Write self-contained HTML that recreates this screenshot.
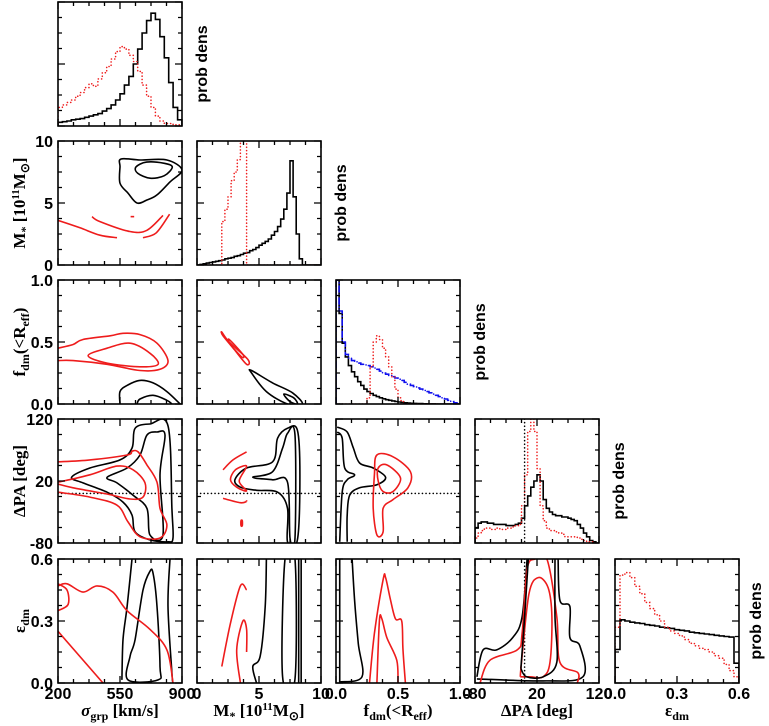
<!DOCTYPE html>
<html><head><meta charset="utf-8"><style>
html,body{margin:0;padding:0;background:#fff;}
svg{display:block;}
text{font-family:"Liberation Sans",sans-serif;font-weight:bold;fill:#000;}
.ttl{font-family:"Liberation Serif",serif;font-weight:bold;}
</style></head><body>
<svg id="fig" width="769" height="726" viewBox="0 0 769 726" xmlns="http://www.w3.org/2000/svg">
<g id="panels"></g>
</svg>
<script>
// ---- data ----
const varNames = ["sigma_grp","Mstar","f_dm","dPA","eps_dm"];
const varMin = [200,0,0,-80,0];
const varMax = [900,10,1,120,0.6];
const xTickLabels = [["200","550","900"],["0","5","10"],["0.0","0.5","1.0"],["-80","20","120"],["0.0","0.3","0.6"]];
const yTickLabels = [null,["0","5","10"],["0.0","0.5","1.0"],["-80","20","120"],["0.0","0.3","0.6"]];
// histograms (bin start, bin width, heights as fraction of panel)
const sigBinStart = 200, sigBinWidth = 25;
const sigHistBlack = [0.03,0.035,0.04,0.05,0.055,0.06,0.07,0.08,0.09,0.10,0.12,0.14,0.17,0.21,0.26,0.33,0.40,0.50,0.62,0.75,0.85,0.91,0.86,0.72,0.55,0.35,0.15,0.05];
const sigHistRed = [0.15,0.17,0.19,0.21,0.24,0.27,0.31,0.34,0.32,0.38,0.43,0.48,0.54,0.60,0.64,0.62,0.57,0.52,0.44,0.33,0.24,0.15,0.08,0.04,0.02,0.02,0.01,0.01];
const mBinStart = 0, mBinWidth = 0.25;
const mHistBlack = [0,0.005,0.01,0.015,0.02,0.025,0.03,0.035,0.04,0.05,0.055,0.06,0.07,0.075,0.085,0.095,0.10,0.115,0.125,0.14,0.16,0.175,0.19,0.21,0.24,0.27,0.31,0.37,0.45,0.58,0.84,0.55,0.25,0.05,0,0,0,0,0,0];
const mHistRed = [0,0,0,0,0,0,0,0,0.35,0.45,0.55,0.68,0.75,0.85,1.05,1.1,0,0,0,0,0,0,0,0,0,0,0,0,0,0,0,0,0,0,0,0,0,0,0,0];
const fBinStart = 0, fBinWidth = 0.025;
const fHistBlack = [1.0,0.73,0.49,0.38,0.31,0.26,0.22,0.18,0.15,0.12,0.10,0.085,0.07,0.06,0.05,0.042,0.035,0.03,0.025,0.02,0.016,0.013,0.01,0.008,0.006,0.005,0.004,0.003,0.002,0.002,0.001,0.001,0,0,0,0,0,0,0,0];
const fHistBlue = [1.0,0.75,0.5,0.4,0.37,0.35,0.34,0.33,0.32,0.315,0.31,0.30,0.29,0.28,0.265,0.25,0.24,0.23,0.22,0.21,0.2,0.19,0.175,0.16,0.15,0.14,0.13,0.12,0.11,0.1,0.09,0.08,0.07,0.06,0.05,0.04,0.03,0.02,0.01,0.005];
const fHistRed = [0,0,0,0,0,0,0,0,0,0,0.05,0.3,0.5,0.55,0.52,0.45,0.38,0.3,0.22,0.12,0.05,0.02,0,0,0,0,0,0,0,0,0,0,0,0,0,0,0,0,0,0];
const paBinStart = -80, paBinWidth = 5;
const paHistBlack = [0.12,0.16,0.17,0.17,0.16,0.16,0.15,0.15,0.15,0.15,0.14,0.14,0.14,0.15,0.16,0.2,0.3,0.38,0.45,0.5,0.55,0.5,0.35,0.28,0.25,0.23,0.22,0.22,0.21,0.21,0.2,0.19,0.18,0.15,0.12,0.08,0.05,0.02,0.01,0];
const paHistRed = [0.04,0.08,0.1,0.12,0.12,0.11,0.11,0.12,0.11,0.11,0.12,0.12,0.13,0.14,0.15,0.3,0.55,0.9,1.0,0.9,0.6,0.3,0.18,0.12,0.1,0.1,0.09,0.08,0.07,0.05,0.05,0.05,0.05,0.04,0.03,0.02,0.01,0.01,0,0];
const eBinStart = 0, eBinWidth = 0.024;
const eHistBlack = [0.27,0.51,0.50,0.49,0.485,0.48,0.47,0.465,0.46,0.45,0.445,0.44,0.43,0.425,0.42,0.41,0.405,0.40,0.395,0.39,0.385,0.38,0.375,0.37,0.16];
const eHistRed = [0.45,0.87,0.89,0.85,0.78,0.72,0.65,0.6,0.55,0.5,0.45,0.42,0.4,0.38,0.35,0.32,0.3,0.28,0.27,0.25,0.22,0.2,0.15,0.1,0.05];
// contours: row variable r, column variable c, data-space points [x,y]
const contourRow = [1,1,1,1,1,1, 2,2,2,2, 2,2,2,2, 3,3,3,3, 3,3,3,3,3,3,3, 3,3,3,3, 4,4,4,4,4,4, 4,4,4,4,4,4, 4,4,4,4, 4,4,4,4,4,4];
const contourCol = [0,0,0,0,0,0, 0,0,0,0, 1,1,1,1, 0,0,0,0, 1,1,1,1,1,1,1, 2,2,2,2, 0,0,0,0,0,0, 1,1,1,1,1,1, 2,2,2,2, 3,3,3,3,3,3];
const contourColor = ["k","k","r","r","r","r", "r","r","k","k", "r","r","k","k", "k","k","r","r", "k","k","r","r","r","r","r", "k","k","r","r", "k","k","k","r","r","r", "k","k","k","k","r","r", "k","k","r","r", "k","k","r","r","k","k"];
const contourClosed = [1,1,0,0,0,0, 0,1,0,0, 1,1,1,1, 1,1,0,0, 1,1,0,0,1,1,0, 0,0,1,1, 0,0,1,0,0,0, 0,1,0,0,0,0, 0,0,0,0, 0,0,0,0,0,0];
const contourPts = [
 [[556,8.55],[663,8.47],[815,8.47],[900,7.66],[832,6.7],[759,5.65],[702,5.24],[646,5.0],[595,5.8],[550,6.6],[550,7.9]],
 [[640,7.9],[700,8.3],[800,8.2],[845,7.9],[800,7.2],[720,7.0],[650,7.4]],
 [[200,3.6],[324,3.0],[437,2.4],[533,2.2]],
 [[680,2.2],[755,2.6],[830,4.1]],
 [[392,3.9],[437,3.5],[606,2.7],[702,2.8],[793,4.0]],
 [[610,3.9],[630,3.9]],
 [[200,0.45],[285,0.48],[341,0.52],[494,0.55],[567,0.57],[663,0.56],[759,0.49],[821,0.35],[776,0.28],[663,0.27],[477,0.32],[285,0.35],[200,0.35]],
 [[370,0.39],[477,0.45],[607,0.49],[719,0.41],[765,0.32],[663,0.30],[477,0.33]],
 [[550,0],[550,0.1],[590,0.15],[663,0.19],[737,0.17],[815,0.1],[889,0]],
 [[646,0],[663,0.04],[737,0.07],[815,0.03],[843,0]],
 [[2.0,0.58],[2.6,0.5],[4.1,0.36],[4.0,0.32],[3.0,0.44],[2.1,0.55]],
 [[2.6,0.52],[3.7,0.4],[3.6,0.38],[2.7,0.48]],
 [[4.4,0.27],[6.1,0.17],[7.7,0.09],[8.5,0],[7.3,0],[5.6,0.1],[4.4,0.25]],
 [[7.0,0.08],[7.8,0.05],[8.1,0.0],[7.5,0.02]],
 [[277,26],[380,41],[550,54],[618,73],[635,105],[719,112],[821,109],[843,-24],[849,-72],[821,-78],[719,-75],[635,-62],[618,-35],[567,-14],[477,2],[341,17]],
 [[477,26],[590,41],[663,62],[702,94],[759,99],[804,94],[776,30],[793,-67],[719,-67],[702,-24],[624,-3],[533,17]],
 [[200,51],[380,54],[590,62],[618,68],[652,67],[702,46],[759,18],[776,-24],[815,-51],[776,-72],[663,-70],[595,-46],[533,-19],[380,-6],[200,2]],
 [[200,18],[380,30],[533,44],[624,38],[691,17],[680,-6],[607,-9],[477,-1],[285,9],[200,15]],
 [[3.06,22],[4.0,41],[6.1,51],[6.5,89],[7.3,105],[8.1,102],[8.3,30],[8.1,-75],[7.3,-78],[7.3,-24],[6.5,2],[4.8,5],[3.5,10]],
 [[4.5,26],[6.1,35],[6.9,73],[7.3,97],[7.9,94],[7.9,-72],[7.5,-72],[7.3,18],[6.1,22]],
 [[2.1,38],[2.9,54],[4.0,67]],
 [[2.1,-8],[3.5,-15],[4.0,-13]],
 [[4.0,44],[3.1,38],[2.7,22],[3.2,10],[4.0,4],[3.4,20]],
 [[3.55,-44],[3.65,-44],[3.65,-52],[3.55,-52]],
 [[4.0,-13],[4.0,-11]],
 [[0.01,107],[0.09,99],[0.14,73],[0.19,49],[0.30,41],[0.40,26],[0.33,14],[0.19,9],[0.11,-3],[0.09,-35],[0.09,-78]],
 [[0.01,99],[0.05,89],[0.07,41],[0.15,30],[0.09,22],[0.05,2],[0.03,-78]],
 [[0.33,62],[0.46,59],[0.60,35],[0.58,9],[0.46,-10],[0.38,-24],[0.38,-62],[0.33,-67],[0.30,-24],[0.31,30]],
 [[0.34,41],[0.41,46],[0.52,25],[0.46,3],[0.38,3],[0.34,20]],
 [[561,0.015],[567,0.21],[590,0.37],[618,0.6]],
 [[832,0.6],[821,0.37],[843,0.05],[849,0.0]],
 [[595,0.015],[607,0.13],[635,0.21],[680,0.45],[719,0.54],[737,0.53],[759,0.37],[776,0.08],[765,0.015]],
 [[200,0.47],[251,0.48],[341,0.44],[420,0.47],[510,0.44],[590,0.35],[719,0.26],[815,0.16],[849,0.0]],
 [[200,0.35],[257,0.38],[251,0.45],[200,0.48]],
 [[200,0.25],[454,0.0]],
 [[5.6,0.6],[5.5,0.37],[5.1,0.13],[4.5,0.08],[4.8,0.0]],
 [[7.1,0.6],[6.9,0.03],[7.9,0.02],[7.9,0.6]],
 [[8.2,0],[8.2,0.6]],
 [[8.4,0],[8.4,0.6]],
 [[2.0,0.08],[2.7,0.29],[3.5,0.47],[4.0,0.45]],
 [[3.5,0.0],[3.2,0.16],[3.7,0.3],[4.0,0.26],[4.0,0.15]],
 [[0.03,0.6],[0.03,0.0]],
 [[0.13,0.6],[0.15,0.4],[0.18,0.19],[0.21,0.03],[0.03,0.005]],
 [[0.27,0.0],[0.31,0.24],[0.38,0.5],[0.40,0.51],[0.44,0.4],[0.48,0.31],[0.53,0.30],[0.54,0.16],[0.56,0.0]],
 [[0.33,0.0],[0.35,0.3],[0.37,0.31],[0.41,0.22],[0.49,0.11],[0.50,0.0]],
 [[-77,0.03],[-67,0.16],[-45,0.16],[-19,0.22],[-4,0.32],[4,0.6]],
 [[54,0.6],[57,0.4],[73,0.37],[73,0.22],[89,0.18],[94,0.03],[30,0.01],[-77,0.02]],
 [[-72,0.0],[-56,0.11],[-12,0.16],[-4,0.24],[4,0.55],[17,0.6],[36,0.6],[52,0.32],[57,0.1],[86,0.05],[85,0.0]],
 [[-7,0.03],[-5,0.1],[7,0.43],[22,0.51],[38,0.46],[44,0.32],[41,0.1],[30,0.03],[9,0.03],[-7,0.03]],
 [[-6,0.07],[0,0.32],[6,0.6]],
 [[49,0.6],[49,0.32],[52,0.1],[30,0.03],[3,0.03],[-6,0.07]]
];
const refPA = 0; // dotted reference line in dPA
// ---- layout ----
const COLX=[58,197,336,475,615], ROWY=[2,141,280,419,559], S=124;
const RED="#ee1c1c", BLUE="#1010ee";
const NS="http://www.w3.org/2000/svg";
const root=document.getElementById('panels');
function sx(c,v){return COLX[c]+(v-varMin[c])/(varMax[c]-varMin[c])*S;}
function sy(r,v){return ROWY[r]+S-(v-varMin[r])/(varMax[r]-varMin[r])*S;}
function hy(r,h){return ROWY[r]+S-h*S;}
function mk(tag,attrs,parent){const e=document.createElementNS(NS,tag);for(const k in attrs)e.setAttribute(k,attrs[k]);(parent||root).appendChild(e);return e;}
function smooth(p,closed){
  const n=p.length; if(n<3){return "M"+p.map(q=>q.join(",")).join("L")+(closed?"Z":"");}
  let d="M"+p[0][0].toFixed(1)+","+p[0][1].toFixed(1);
  const get=i=>closed?p[(i+n)%n]:p[Math.max(0,Math.min(n-1,i))];
  const last=closed?n:n-1;
  for(let i=0;i<last;i++){
    const p0=get(i-1),p1=get(i),p2=get(i+1),p3=get(i+2);
    const c1=[p1[0]+(p2[0]-p0[0])/6,p1[1]+(p2[1]-p0[1])/6];
    const c2=[p2[0]-(p3[0]-p1[0])/6,p2[1]-(p3[1]-p1[1])/6];
    d+="C"+c1.map(v=>v.toFixed(1)).join(",")+" "+c2.map(v=>v.toFixed(1)).join(",")+" "+p2[0].toFixed(1)+","+p2[1].toFixed(1);
  }
  return d+(closed?"Z":"");
}
const defs=mk('defs',{});
for(let r=0;r<5;r++)for(let c=0;c<=r;c++){
  const cp=mk('clipPath',{id:'cp'+r+c},defs);
  mk('rect',{x:COLX[c],y:ROWY[r],width:S,height:S},cp);
}
function panelGroup(r,c){
  const g=mk('g',{'clip-path':'url(#cp'+r+c+')'});
  
  
  return g;
}
function hist(r,c,start,w,vals,color,dash,name,g){
  let d="M"+sx(c,start).toFixed(1)+","+hy(r,0).toFixed(1);
  vals.forEach((v,i)=>{const x0=sx(c,start+i*w),x1=sx(c,start+(i+1)*w),y=hy(r,v);d+="L"+x0.toFixed(1)+","+y.toFixed(1)+"L"+x1.toFixed(1)+","+y.toFixed(1);});
  d+="L"+sx(c,start+vals.length*w).toFixed(1)+","+hy(r,0).toFixed(1);
  const a={d:d,fill:'none',stroke:color,'stroke-width':1.6};
  if(dash){a['stroke-dasharray']=dash;a['stroke-linecap']='round';}
  const e=mk('path',a,g);
  
  
}
const diag=[
 [0,sigBinStart,sigBinWidth,[[sigHistBlack,'#000',null],[sigHistRed,RED,'0.1,3.2']]],
 [1,mBinStart,mBinWidth,[[mHistBlack,'#000',null],[mHistRed,RED,'0.1,3.2']]],
 [2,fBinStart,fBinWidth,[[fHistBlack,'#000',null],[fHistBlue,BLUE,'6,3,0.1,3'],[fHistRed,RED,'0.1,3.2']]],
 [3,paBinStart,paBinWidth,[[paHistBlack,'#000',null],[paHistRed,RED,'0.1,3.2']]],
 [4,eBinStart,eBinWidth,[[eHistBlack,'#000',null],[eHistRed,RED,'0.1,3.2']]]
];
diag.forEach(([k,st,w,series])=>{
  const g=panelGroup(k,k);
  series.forEach((s,i)=>hist(k,k,st,w,s[0],s[1],s[2],'hist-'+varNames[k]+'-'+i,g));
});
(function(){
  for(let c=0;c<3;c++){const g=panelGroup(3,c);
    const l=mk('line',{x1:COLX[c],x2:COLX[c]+S,y1:sy(3,refPA),y2:sy(3,refPA),stroke:'#000','stroke-width':1.6,'stroke-dasharray':'0.1,3.5','stroke-linecap':'round'},g);
    
    }
  [3,4].forEach(r=>{const g=panelGroup(r,3);
    const l=mk('line',{x1:sx(3,refPA),x2:sx(3,refPA),y1:ROWY[r],y2:ROWY[r]+S,stroke:'#000','stroke-width':1.6,'stroke-dasharray':'0.1,3.5','stroke-linecap':'round'},g);
    
    });
})();
contourPts.forEach((pts,i)=>{
  const r=contourRow[i],c=contourCol[i];
  const g=panelGroup(r,c);
  const p=pts.map(q=>[sx(c,q[0]),sy(r,q[1])]);
  const e=mk('path',{d:smooth(p,!!contourClosed[i]),fill:'none',stroke:contourColor[i]==='r'?RED:'#000','stroke-width':1.6,'stroke-linejoin':'round'},g);
  
  
});
for(let r=0;r<5;r++)for(let c=0;c<=r;c++){
  const x0=COLX[c],y0=ROWY[r];
  const f=mk('rect',{x:x0,y:y0,width:S,height:S,fill:'none',stroke:'#000','stroke-width':1.6});
  
  
  let d="";
  for(let i=0;i<=8;i++){
    const L=(i%4===0)?7:4; const t=x0+i*S/8, u=y0+i*S/8;
    d+=`M${t},${y0+S}v${-L}M${t},${y0}v${L}M${x0},${u}h${L}M${x0+S},${u}h${-L}`;
  }
  const tk=mk('path',{d:d,stroke:'#000','stroke-width':1.3,fill:'none'});
  
  
}
for(let c=0;c<5;c++){
  xTickLabels[c].forEach((s,i)=>{
    const t=mk('text',{x:COLX[c]+i*S/2,y:699,'text-anchor':'middle','font-size':16});
    t.textContent=s;
    
    
  });
}
for(let r=1;r<5;r++){
  yTickLabels[r].forEach((s,i)=>{
    const t=mk('text',{x:53,y:ROWY[r]+S-i*S/2+6,'text-anchor':'end','font-size':16});
    t.textContent=s;
    
    
  });
}
for(let k=0;k<5;k++){
  const x=COLX[k]+S+(k===4?22:25), y=ROWY[k]+S/2;
  const t=mk('text',{x:x,y:y,'text-anchor':'middle','font-size':16,transform:`rotate(-90 ${x} ${y})`});
  t.textContent='prob dens';
  
  
}
</script>
<svg width="769" height="726" style="position:absolute;left:0;top:0" xmlns="http://www.w3.org/2000/svg">
<text class="ttl" x="120" y="716" text-anchor="middle" font-size="17"><tspan font-style="italic">σ</tspan><tspan font-size="12" dy="4">grp</tspan><tspan dy="-4"> [km/s]</tspan></text>
<text class="ttl" x="259" y="716" text-anchor="middle" font-size="17">M<tspan font-size="12" dy="4">*</tspan><tspan dy="-4"> [10</tspan><tspan font-size="11" dy="-6">11</tspan><tspan dy="6">M</tspan><tspan font-size="12" dy="4">⊙</tspan><tspan dy="-4">]</tspan></text>
<text class="ttl" x="398" y="716" text-anchor="middle" font-size="17">f<tspan font-size="12" dy="4">dm</tspan><tspan dy="-4">(&lt;R</tspan><tspan font-size="12" dy="4">eff</tspan><tspan dy="-4">)</tspan></text>
<text class="ttl" x="537" y="716" text-anchor="middle" font-size="17">ΔPA [deg]</text>
<text class="ttl" x="677" y="716" text-anchor="middle" font-size="17">ε<tspan font-size="12" dy="4">dm</tspan></text>
<text class="ttl" x="0" y="0" transform="translate(25 203) rotate(-90)" text-anchor="middle" font-size="17">M<tspan font-size="12" dy="4">*</tspan><tspan dy="-4"> [10</tspan><tspan font-size="11" dy="-6">11</tspan><tspan dy="6">M</tspan><tspan font-size="12" dy="4">⊙</tspan><tspan dy="-4">]</tspan></text>
<text class="ttl" x="0" y="0" transform="translate(25 342) rotate(-90)" text-anchor="middle" font-size="17">f<tspan font-size="12" dy="4">dm</tspan><tspan dy="-4">(&lt;R</tspan><tspan font-size="12" dy="4">eff</tspan><tspan dy="-4">)</tspan></text>
<text class="ttl" x="0" y="0" transform="translate(25 481) rotate(-90)" text-anchor="middle" font-size="17">ΔPA [deg]</text>
<text class="ttl" x="0" y="0" transform="translate(25 621) rotate(-90)" text-anchor="middle" font-size="17">ε<tspan font-size="12" dy="4">dm</tspan></text>
</svg>
</body></html>
